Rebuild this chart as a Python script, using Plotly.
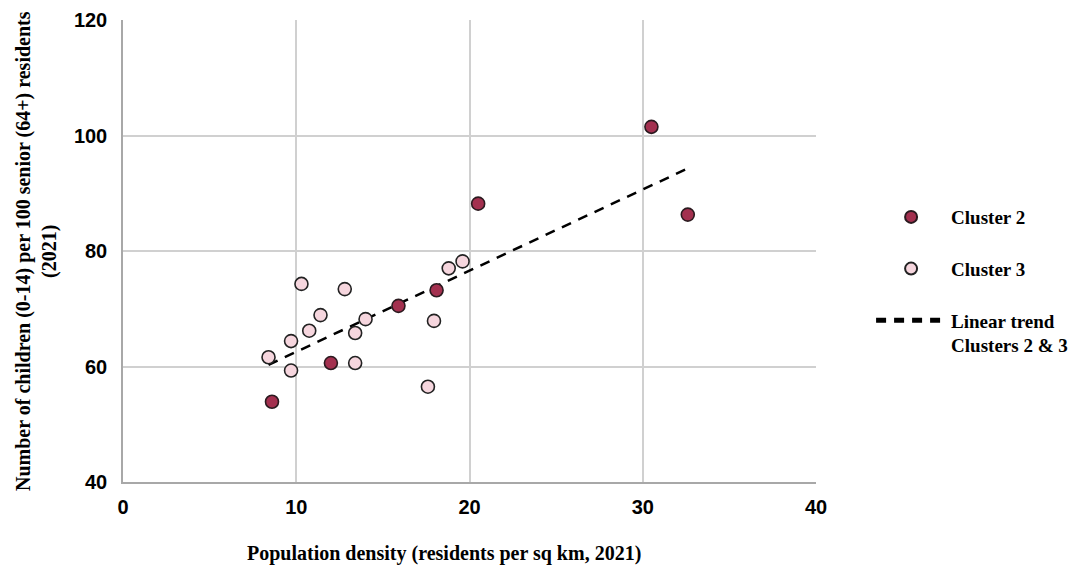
import numpy as np
import plotly.graph_objects as go

# Data
cluster2_x = [8.6, 12.0, 15.9, 18.1, 20.5, 30.5, 32.6]
cluster2_y = [53.9, 60.6, 70.5, 73.2, 88.2, 101.5, 86.3]
cluster3_x = [8.4, 9.7, 9.7, 10.3, 10.75, 11.4, 12.8, 13.4, 13.4, 14.0, 17.6, 17.95, 18.8, 19.6]
cluster3_y = [61.6, 64.4, 59.3, 74.3, 66.2, 68.9, 73.4, 65.8, 60.6, 68.2, 56.5, 67.9, 77.0, 78.2]
x_ticks = [0, 10, 20, 30, 40]
y_ticks = [40, 60, 80, 100, 120]

# Linear trend over clusters 2 & 3
all_x = np.array(cluster2_x + cluster3_x)
all_y = np.array(cluster2_y + cluster3_y)
slope, intercept = np.polyfit(all_x, all_y, 1)
trend_x = [float(all_x.min()), float(all_x.max())]
trend_y = [slope * v + intercept for v in trend_x]

SERIF = "Liberation Serif, Times New Roman, serif"
SANS = "Liberation Sans, Arial, sans-serif"

fig = go.Figure()
fig.add_trace(go.Scatter(
    x=trend_x, y=trend_y, mode="lines", name="Linear trend<br>Clusters 2 & 3",
    line=dict(color="black", width=2.5, dash="10px,8px"), legendrank=3, legendgroup="g3",
))
fig.add_trace(go.Scatter(
    x=cluster3_x, y=cluster3_y, mode="markers", name="Cluster 3",
    marker=dict(size=13, color="#f6d6de", line=dict(color="#222222", width=1.6)),
    legendrank=2, legendgroup="g2",
))
fig.add_trace(go.Scatter(
    x=cluster2_x, y=cluster2_y, mode="markers", name="Cluster 2",
    marker=dict(size=13, color="#a3304f", line=dict(color="#2a1a1f", width=1.6)),
    legendrank=1, legendgroup="g1",
))

# Page body has an 8px default margin, so the figure is sized to fit the window
fig.update_layout(
    width=1073, height=558,
    margin=dict(l=115, r=265, t=12, b=84, autoexpand=False),
    paper_bgcolor="white", plot_bgcolor="white",
    showlegend=True,
    legend=dict(
        x=1.0795, y=0.435, xanchor="left", yanchor="middle",
        font=dict(family=SERIF, size=19, color="black", weight="bold"),
        itemsizing="constant", itemwidth=70, tracegroupgap=24,
        traceorder="grouped", valign="top",
        bgcolor="rgba(0,0,0,0)",
    ),
    xaxis=dict(
        range=[0, 40], tickvals=x_ticks, showgrid=True, gridcolor="#d0d0d0", gridwidth=1.5,
        showline=True, linecolor="#a8a8a8", linewidth=1.5, zeroline=False, ticks="",
        tickfont=dict(family=SANS, size=20, color="black", weight="bold"),
        ticklabelstandoff=6, automargin=False,
    ),
    yaxis=dict(
        range=[40, 120], tickvals=y_ticks, showgrid=True, gridcolor="#d0d0d0", gridwidth=1.5,
        showline=True, linecolor="#a8a8a8", linewidth=1.5, zeroline=False, ticks="",
        tickfont=dict(family=SANS, size=20, color="black", weight="bold"),
        ticklabelstandoff=10, automargin=False,
    ),
    annotations=[
        dict(
            text="<b>Population density (residents per sq km, 2021)</b>",
            xref="paper", yref="paper", x=(444 - 123) / 693, y=-(553 - 482) / 462,
            xanchor="center", yanchor="middle", showarrow=False,
            font=dict(family=SERIF, size=20, color="black"),
        ),
        dict(
            text="<b>Number of children (0-14) per 100 senior (64+) residents<br>(2021)</b>",
            xref="paper", yref="paper", x=-(123 - 36) / 693, y=0.5,
            xanchor="center", yanchor="middle", showarrow=False, textangle=-90,
            font=dict(family=SERIF, size=20, color="black"),
        ),
    ],
)

fig.write_html("out.html")
